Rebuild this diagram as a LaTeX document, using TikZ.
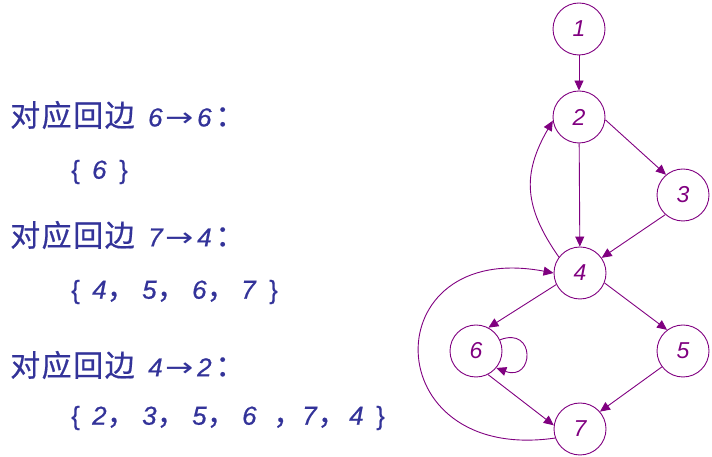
\documentclass[tikz,border=0pt]{standalone}
\usepackage{fontspec}
\setmainfont{Liberation Sans}
\newfontfamily\lbs{Liberation Sans}[FakeBold=0.6,ItalicFeatures={FakeBold=0.6}]
\newfontfamily\cjk{Noto Sans CJK SC}[FakeBold=0.5]
\newfontfamily\dv{DejaVu Sans}
\usetikzlibrary{arrows.meta}
\definecolor{pur}{RGB}{128,0,128}
\definecolor{txtblue}{RGB}{51,51,153}
\newcommand{\cj}[1]{{\cjk\fontsize{30}{30}\selectfont #1}}
\newcommand{\cjc}[1]{\makebox[31.5pt][l]{\cj{#1}}}
\newcommand{\arr}{\makebox[32pt][l]{\dv\scalebox{1.3}[1]{→}}}
\newcommand{\bx}[2]{\makebox[#1pt][l]{#2}}
\newcommand{\dg}[1]{\textit{#1}}
\newcommand{\head}[2]{\cjc{对}\cjc{应}\cjc{回}\cjc{边}\hspace{12pt}\bx{17}{\dg{#1}}\arr\bx{18}{\dg{#2}}\cj{：}}
\tikzset{
  vtx/.style={circle,draw=pur,line width=0.9pt,minimum size=52pt,inner sep=0pt,
    text=pur,font=\itshape\fontsize{23}{23}\selectfont},
  edge/.style={draw=pur,line width=0.9pt,-{Triangle[length=10pt,width=9pt]}},
  lbl/.style={anchor=west,inner sep=0pt,text=txtblue,font=\lbs\fontsize{26}{26}\selectfont}
}
\begin{document}
\begin{tikzpicture}[x=1pt,y=1pt]
\useasboundingbox (0,0) rectangle (712,457);
\node[vtx] (n1) at (579,428) {1};
\node[vtx] (n2) at (579,340) {2};
\node[vtx] (n3) at (683,262) {3};
\node[vtx] (n4) at (580,184) {4};
\node[vtx] (n6) at (476,106) {6};
\node[vtx] (n5) at (683,106) {5};
\node[vtx] (n7) at (580,28) {7};
\draw[edge] (n1) -- (n2);
\draw[edge] (n2) -- (n4);
\draw[edge] (n2.-6) -- (n3.130);
\draw[edge] (n3.228) -- (n4.35);
\draw[edge] (n4.206) -- (n6.62);
\draw[edge] (n4.-22) -- (n5.127);
\draw[edge] (n5.217) -- (n7.41);
\draw[edge] (n6.-63) -- (n7.172);
\draw[edge] (n6.25) .. controls +(36,14) and +(38,-14) .. (n6.-40);
\draw[edge] (n4.143) to[out=125,in=240,looseness=1.15] (n2.188);
\draw[edge] (n7.200) .. controls +(-180,-26) and +(-180,34) .. (n4.180);
\node[lbl] (t1) at (10,342) {\head{6}{6}};
\node[lbl] (s1) at (71,285) {\bx{21}{\{}\bx{27}{\dg{6}}\}};
\node[lbl] (t2) at (10,222) {\head{7}{4}};
\node[lbl] (s2) at (71,165) {\bx{21}{\{}\bx{50}{\dg{4}\cj{，}}\bx{50}{\dg{5}\cj{，}}\bx{49}{\dg{6}\cj{，}}\bx{28}{\dg{7}}\}};
\node[lbl] (t3) at (10,92) {\head{4}{2}};
\node[lbl] (s3) at (71,39) {\bx{21}{\{}\bx{50}{\dg{2}\cj{，}}\bx{50}{\dg{3}\cj{，}}\bx{50}{\dg{5}\cj{，}}\bx{31}{\dg{6}}\bx{29}{\cj{，}}\bx{47}{\dg{7}\cj{，}}\bx{27}{\dg{4}}\}};
\end{tikzpicture}
\end{document}
